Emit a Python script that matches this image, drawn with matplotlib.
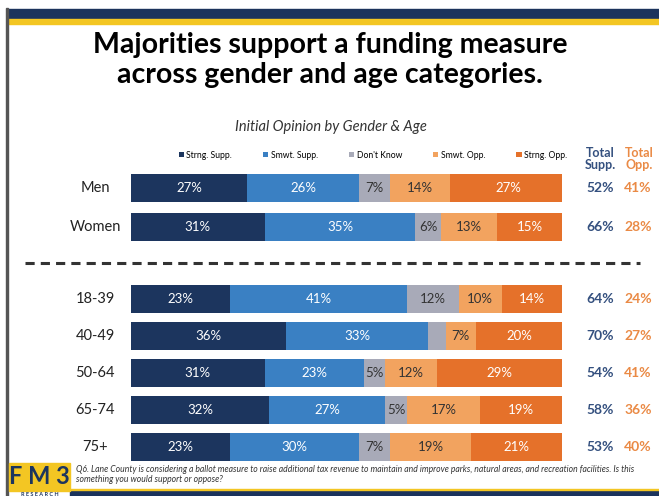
import numpy as np
import matplotlib.pyplot as plt
from matplotlib.patches import Rectangle
import matplotlib.transforms as mtransforms

plt.rcParams['font.family'] = ['Lato', 'DejaVu Sans']

# Data
groups = ['Men', 'Women', '18-39', '40-49', '50-64', '65-74', '75+']
categories = ['Strng. Supp.', 'Smwt. Supp.', "Don't Know", 'Smwt. Opp.', 'Strng. Opp.']
strng_supp = [27, 31, 23, 36, 31, 32, 23]
smwt_supp = [26, 35, 41, 33, 23, 27, 30]
dont_know = [7, 6, 12, 4, 5, 5, 7]
smwt_opp = [14, 13, 10, 7, 12, 17, 19]
strng_opp = [27, 15, 14, 20, 29, 19, 21]
total_supp = [52, 66, 64, 70, 54, 58, 53]
total_opp = [41, 28, 24, 27, 41, 36, 40]

colors = ['#1c355e', '#3a80c3', '#a8aab8', '#f2a35f', '#e5712a']
text_colors = ['white', 'white', '#333333', '#333333', 'white']
navy = '#1c355e'
supp_col = '#34507f'
opp_col = '#ea8a45'

W, H = 659, 496
fig = plt.figure(figsize=(W / 100, H / 100), dpi=100)

def fx(x):
    return x / W

def fy(y):
    return 1 - y / H

# slide frame
fig.patches.append(Rectangle((fx(7), fy(19)), 1, 10 / H, transform=fig.transFigure, color='#1b335c', zorder=0))
fig.patches.append(Rectangle((fx(7), fy(24)), 1, 5 / H, transform=fig.transFigure, color='#f3c623', zorder=0))
fig.patches.append(Rectangle((fx(6), fy(496)), 2 / W, 488 / H, transform=fig.transFigure, color='#555555', zorder=0))
fig.patches.append(Rectangle((fx(70), 0), 1, 6 / H, transform=fig.transFigure, color='#1b335c', zorder=0))
fig.patches.append(Rectangle((fx(70), 6 / H), 1, 1.5 / H, transform=fig.transFigure, color='#f3c623', zorder=0))
fig.patches.append(Rectangle((fx(9), fy(491)), 61 / W, 28 / H, transform=fig.transFigure, color='#f3c623', zorder=0))
fig.text(fx(39.5), fy(477), 'F M 3', fontsize=17, fontweight='bold', color=navy, ha='center', va='center')
fig.text(fx(39.5), fy(494), 'R E S E A R C H', fontsize=4, fontweight='bold', color=navy, ha='center', va='center')
fig.text(fx(76), fy(470), 'Q6. Lane County is considering a ballot measure to raise additional tax revenue to maintain and improve parks, '
         'natural areas, and recreation facilities. Is this', fontsize=6.2, style='italic', color='#333333', va='center')
fig.text(fx(76), fy(480), 'something you would support or oppose?', fontsize=6.2, style='italic', color='#333333', va='center')

# titles
fig.text(fx(330), fy(45), 'Majorities support a funding measure', fontsize=20.5, fontweight='bold', ha='center', va='center')
fig.text(fx(330), fy(75), 'across gender and age categories.', fontsize=20.5, fontweight='bold', ha='center', va='center')
fig.text(fx(331), fy(127), 'Initial Opinion by Gender & Age', fontsize=10.5, style='italic', color='#333333', ha='center', va='center')

# bars
ypos = [0, 1.05, 3, 4, 5, 6, 7]
ax = fig.add_axes([fx(131), fy(465.5), 431 / W, 296 / H])
ax.set_xlim(0, 100)
ax.set_ylim(7.5, -0.5)
ax.axis('off')

series = [strng_supp, smwt_supp, dont_know, smwt_opp, strng_opp]
left = np.zeros(len(groups))
for vals, name, c, tc in zip(series, categories, colors, text_colors):
    vals = np.array(vals)
    ax.barh(ypos, vals, left=left, height=0.76, color=c, label=name)
    for y, l, v in zip(ypos, left, vals):
        if v >= 5:
            ax.text(l + v / 2, y, f'{v}%', ha='center', va='center', fontsize=9.5, color=tc)
    left += vals

tr = mtransforms.blended_transform_factory(ax.transAxes, ax.transData)
for y, g in zip(ypos, groups):
    ax.text(-0.083, y, g, transform=tr, ha='center', va='center', fontsize=10.5, color='#222222')

for y, s, o in zip(ypos, total_supp, total_opp):
    ax.text(108.8, y, f'{s}%', ha='center', va='center', fontsize=10, fontweight='bold', color=supp_col, clip_on=False)
    ax.text(117.6, y, f'{o}%', ha='center', va='center', fontsize=10, fontweight='bold', color=opp_col, clip_on=False)

fig.text(fx(600), fy(159), 'Total\nSupp.', fontsize=9, fontweight='bold', color=supp_col, ha='center', va='center', linespacing=1.0)
fig.text(fx(639), fy(159), 'Total\nOpp.', fontsize=9, fontweight='bold', color=opp_col, ha='center', va='center', linespacing=1.0)

ax.plot([-0.246, 1.181], [2.03, 2.03], transform=tr, clip_on=False, color='#333333', lw=2.2, ls=(0, (3, 2)))

ax.legend(loc='center', bbox_to_anchor=(fx(373), fy(155)), bbox_transform=fig.transFigure, ncol=5, frameon=False,
          fontsize=6.2, handlelength=0.6, handleheight=0.6, handletextpad=0.3, columnspacing=3.6)

fig.savefig('out.png', dpi=100)
